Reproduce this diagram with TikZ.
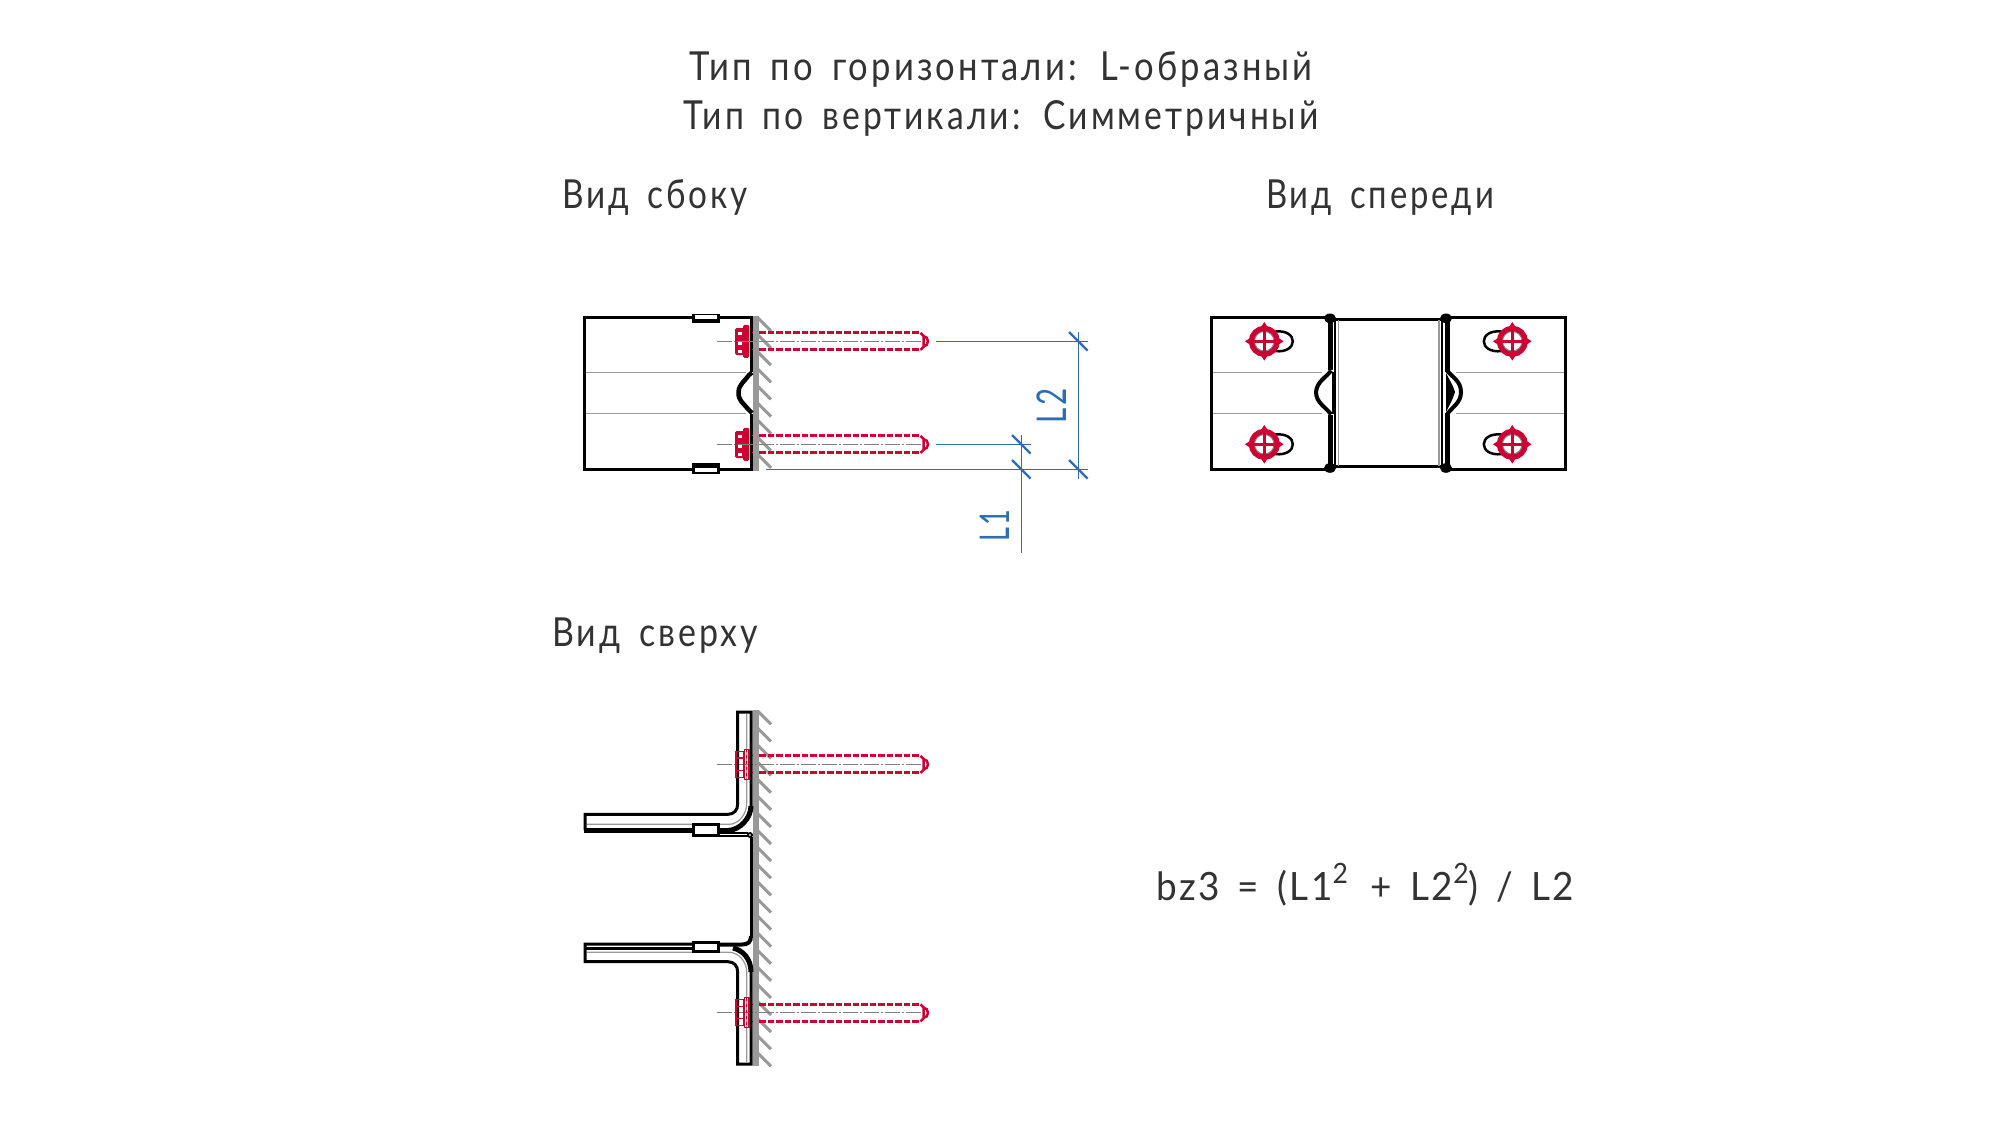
\documentclass[tikz,border=0pt]{standalone}
\usepackage{fontspec}
\usepackage{graphicx}
\setmainfont{Lato}
\newfontfamily\cadfont[LetterSpace=9,WordSpace=1.6]{Lato}
\newfontfamily\formfont[LetterSpace=7,WordSpace=1.5]{Lato}
\definecolor{ink}{HTML}{333333}
\definecolor{crim}{HTML}{CC0033}
\definecolor{dimblue}{HTML}{2E6DB4}
\definecolor{wallgray}{HTML}{999999}
\definecolor{axisgray}{HTML}{808080}
\newcommand\fitw[2]{\resizebox{#1pt}{\height}{#2}}
\tikzset{
  lab/.style={anchor=base west,inner sep=0pt,outer sep=0pt,text=ink,font=\cadfont\fontsize{40}{40}\selectfont},
  dimlab/.style={anchor=base west,inner sep=0pt,outer sep=0pt,text=dimblue,rotate=90,font=\cadfont\fontsize{41}{41}\selectfont},
  part/.style={draw=black,line width=3pt,line join=miter},
  thickp/.style={draw=black,line width=5pt},
  thin/.style={draw=wallgray,line width=1.2pt},
  axisline/.style={draw=axisgray,line width=1.1pt,dash pattern=on 15pt off 2pt on 2pt off 2pt},
  dimline/.style={draw=dimblue,line width=1.2pt},
  dimtick/.style={draw=dimblue,line width=2.4pt},
  shaft/.style={draw=crim,line width=3pt,dash pattern=on 6.5pt off 2pt},
  redthin/.style={draw=crim,line width=1.2pt},
  hatchline/.style={draw=wallgray,line width=3pt},
}
% wall with hatching: #1 top, #2 bottom, #3 first hatch start, #4 last index
\newcommand\wallhatch[4]{%
  \fill[wallgray] (752.7,#1) rectangle (759,#2);
  \foreach \i in {0,...,#4}{%
    \pgfmathsetmacro\yy{#3+17.1*\i}
    \draw[hatchline] (758,\yy) -- (771,\yy+13);
  }}
% bolt shaft with tip, local origin y = axis
\newcommand\boltshaft[1]{%
  \begin{scope}[shift={(0,#1)}]
    \draw[axisline] (717,0) -- (921,0);
    \draw[shaft] (759.3,-8.5) -- (920.5,-8.5);
    \draw[shaft] (759.3,8.5) -- (920.5,8.5);
    \draw[crim,line width=1.2pt] (751.7,-8.5) -- (753,-8.5) (751.7,8.5) -- (753,8.5);
    \draw[crim,line width=2.5pt] (920.5,-8.5) -- (923.5,-5.5) -- (923.5,5.5) -- (920.5,8.5);
    \draw[crim,line width=2.5pt] (923.5,-5) .. controls (926,-5) and (928,-3) .. (928,0) .. controls (928,3) and (926,5) .. (923.5,5);
  \end{scope}}
% side-view bolt head
\newcommand\sidehead[1]{%
  \begin{scope}[shift={(0,#1)}]
    \fill[crim,rounded corners=1.5pt] (735,-13.2) rectangle (745,13.7);
    \fill[crim,rounded corners=1.5pt] (743,-16.5) rectangle (749.3,16.5);
    \fill[white] (738.3,-9.5) rectangle (742.3,-6.5);
    \fill[white] (738.3,0.3) rectangle (742.3,3.8);
    \fill[white] (738.3,8.8) rectangle (742.3,11.8);
    \draw[axisgray,line width=1pt] (737,0) -- (751,0);
  \end{scope}}
% front-view bolt, #1 centre, #2 direction
\newcommand\frontbolt[3]{%
  \begin{scope}[shift={(#1,#2)},xscale=#3]
    \draw[black,line width=2.5pt] (11,-9.8) .. controls (22,-11) and (28.5,-6) .. (28.5,0) .. controls (28.5,6) and (22,11) .. (11,9.8);
    \draw[crim,line width=5.5pt] (0,0) circle[radius=12.8];
    \draw[axisgray,line width=1pt] (0,0) circle[radius=9.8];
    \draw[crim,line width=2.4pt] (-12,0) -- (12,0) (0,-12) -- (0,12);
    \fill[crim] (14,-3.5) -- (19.3,0) -- (14,3.5) -- cycle;
    \fill[crim] (-14,-3.5) -- (-19.3,0) -- (-14,3.5) -- cycle;
    \fill[crim] (-3.5,14) -- (0,19.3) -- (3.5,14) -- cycle;
    \fill[crim] (-3.5,-14) -- (0,-19.3) -- (3.5,-14) -- cycle;
  \end{scope}}
% top-view bolt head
\newcommand\tophead[1]{%
  \begin{scope}[shift={(0,#1)}]
    \draw[crim,line width=1.8pt] (735.7,-13) -- (735.7,13);
    \draw[redthin] (735.7,-13) rectangle (744,13);
    \draw[redthin] (735.7,-6.3) -- (744,-6.3) (735.7,6) -- (744,6);
    \draw[redthin] (744.3,-15) rectangle (749,15);
    \draw[redthin,dashed] (746.7,-15) -- (746.7,15);
  \end{scope}}
\begin{document}
\begin{tikzpicture}[x=1pt,y=-1pt]
\useasboundingbox (0,0) rectangle (2000,1125);
\fill[white] (0,0) rectangle (2000,1125);

% ---------- titles
\node[lab] (title1) at (689.5,80) {\fitw{623}{Тип по горизонтали: L-образный}};
\node[lab] (title2) at (683.5,129) {\fitw{635}{Тип по вертикали: Симметричный}};
\node[lab] (side) at (562,208) {\fitw{186}{Вид сбоку}};
\node[lab] (front) at (1266,208) {\fitw{228}{Вид спереди}};
\node[lab] (top) at (552,646) {\fitw{206}{Вид сверху}};
\node[anchor=base west,inner sep=0pt,text=ink,font=\formfont\fontsize{39}{39}\selectfont] (formula) at (1156,900.7)
  {\fitw{418}{bz3 = (L1\raisebox{17pt}{\fontsize{28}{28}\selectfont 2}\hspace{5pt} + L2\raisebox{17pt}{\fontsize{28}{28}\selectfont 2}) / L2}};

% ---------- side view
\draw[thin] (586,372.3) -- (746,372.3) (586,413.3) -- (746,413.3);
\wallhatch{316}{471}{318}{8}
\draw[part] (751,372) -- (751,317) -- (584.5,317) -- (584.5,469) -- (751,469) -- (751,414);
\draw[black,line width=4.5pt] (752,372.5) -- (749,375) .. controls (745,381) and (739,384) .. (738.5,392) .. controls (738,400) and (743,403) .. (748,409) -- (752,413);
\fill[black] (692.3,313.5) rectangle (720,322.7);
\fill[white] (694.7,315.3) rectangle (717.3,318.7);
\fill[black] (692.3,463) rectangle (720,473.7);
\fill[white] (694.7,468.3) rectangle (717.3,471.7);
\boltshaft{341.3}
\boltshaft{444.3}
\sidehead{341.3}
\sidehead{444.3}

% ---------- dimensions
\coordinate (e1a) at (936,341.3);
\coordinate (e1b) at (1087.7,341.3);
\coordinate (e2a) at (936,444.3);
\coordinate (e2b) at (1030.7,444.3);
\coordinate (e3a) at (766,469.3);
\coordinate (e3b) at (1087.7,469.3);
\draw[dimline] (e1a) -- (e1b);
\draw[dimline] (e2a) -- (e2b);
\draw[dimline] (e3a) -- (e3b);
\draw[dimline] (1078.3,332) -- (1078.3,478.7);
\draw[dimline] (1021.3,435) -- (1021.3,553.3);
\draw[dimtick] (1069,332) -- (1087.6,350.6);
\draw[dimtick] (1069,460) -- (1087.6,478.6);
\draw[dimtick] (1012,435) -- (1030.6,453.6);
\draw[dimtick] (1012,460) -- (1030.6,478.6);
\node[dimlab] (L2) at (1066,423) {\fitw{35}{L2}};
\node[dimlab] (L1) at (1009,541.7) {\fitw{32}{L1}};

% ---------- front view
\draw[thin] (1212,372.3) -- (1322,372.3) (1212,413.3) -- (1322,413.3);
\draw[thin] (1456,372.3) -- (1564,372.3) (1456,413.3) -- (1564,413.3);
\draw[part] (1328,317.3) -- (1211,317.3) -- (1211,469.3) -- (1328,469.3);
\draw[part] (1450,317.3) -- (1565,317.3) -- (1565,469.3) -- (1450,469.3);
\draw[part] (1333,319.3) -- (1445,319.3) (1333,466.7) -- (1445,466.7);
\draw[thin] (1338.5,320) -- (1338.5,466) (1439,320) -- (1439,466);
\draw[black,line width=2.2pt] (1335.3,320) -- (1335.3,466);
\draw[black,line width=2.2pt] (1442,320) -- (1442,466);
\draw[black,line width=5pt] (1330.5,318) -- (1330.5,370) (1330.5,415) -- (1330.5,468);
\draw[black,line width=5pt] (1447.5,318) -- (1447.5,372) (1447.5,413) -- (1447.5,468);
\draw[black,line width=2.2pt] (1333,372) -- (1333,414);
\fill[black] (1330,318.3) ellipse[x radius=6,y radius=4.8];
\fill[black] (1330,468) ellipse[x radius=6,y radius=4.8];
\fill[black] (1446,318.3) ellipse[x radius=6,y radius=4.8];
\fill[black] (1446,468) ellipse[x radius=6,y radius=4.8];
\draw[black,line width=4pt] (1331,370.5) .. controls (1327,377) and (1317,381) .. (1316,392) .. controls (1316,403) and (1326,407) .. (1331,414.5);
\draw[black,line width=4pt] (1447,370.5) .. controls (1452,377) and (1461,381) .. (1461,392) .. controls (1461,403) and (1452,407) .. (1447,414.5);
\fill[black] (1446,373) .. controls (1450,381) and (1453,385) .. (1455,392) .. controls (1453,399) and (1450,404) .. (1446,412) -- cycle;
\frontbolt{1264.3}{341.3}{1}
\frontbolt{1264.3}{444.3}{1}
\frontbolt{1512.3}{341.3}{-1}
\frontbolt{1512.3}{444.3}{-1}

% ---------- top view
\wallhatch{710}{1066}{711.3}{20}
\boltshaft{764.3}
\boltshaft{1012.8}
% upper bracket
\draw[thin] (587,824.3) -- (729,824.3) .. controls (738,824.3) and (746.7,815) .. (746.7,803) -- (746.7,714);
\draw[part] (751,808) -- (751,712) -- (737.7,712) -- (737.7,804) .. controls (737.7,810) and (734,814.3) .. (728,814.3) -- (585,814.3) -- (585,830);
\draw[thickp] (583.5,830.5) -- (693,830.5);
\draw[thickp] (719,830.5) -- (728,830.5) .. controls (740,830) and (751,818) .. (751,806);
\draw[black,line width=2pt] (719,832.7) -- (748,832.7) (719,836) -- (748,836);
\draw[part,fill=white] (693.9,824.5) rectangle (718.1,835);
\draw[black,line width=1.8pt,fill=white] (750,835) circle[radius=2];
\draw[part] (751,837) -- (751,937);
% lower bracket
\draw[thin] (587,952.3) -- (729,952.3) .. controls (738,952.3) and (746.7,961) .. (746.7,972) -- (746.7,1062);
\draw[part] (692,944) -- (585,944) -- (585,961.7) -- (728,961.7) .. controls (734,961.7) and (737.7,966) .. (737.7,972) -- (737.7,1064) -- (751,1064) -- (751,970);
\draw[black,line width=2.4pt] (585,948.5) -- (692,948.5);
\draw[thickp] (733,948) .. controls (742,950) and (751,958) .. (751,972);
\draw[black,line width=4pt] (719,944.5) -- (742,944.5) .. controls (748,944.5) and (751,942) .. (751,936);
\draw[part,fill=white] (693.9,942.2) rectangle (718.1,951.5);
\tophead{764.3}
\tophead{1012.8}
\end{tikzpicture}
\end{document}
